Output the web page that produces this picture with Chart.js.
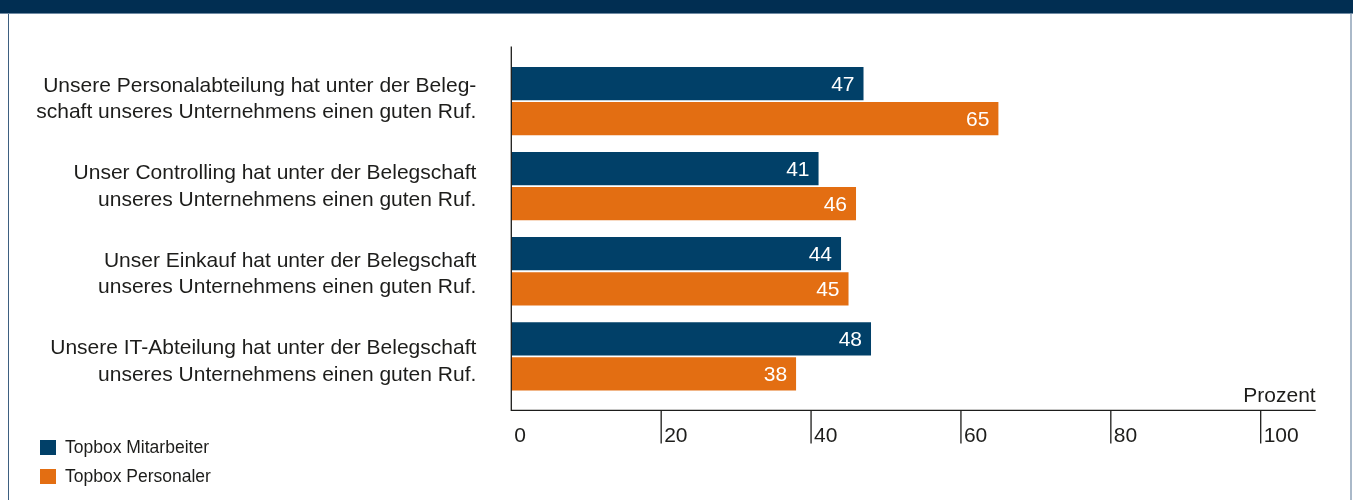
<!DOCTYPE html>
<html lang="de">
<head>
    <meta charset="UTF-8">
    <title>Ruf der Abteilungen</title>
    <script src="https://cdn.jsdelivr.net/npm/chart.js"></script>
    <style>
        body {
            margin: 0;
            width: 1353px;
            height: 500px;
            overflow: hidden;
            background: #fff;
            font-family: 'Liberation Sans', Arial, sans-serif;
        }
        .band {
            position: absolute;
            left: 0; top: 0;
            width: 1353px; height: 13px;
            background: #012e52;
            border-bottom: 1px solid #6f8aa3;
        }
        .frame {
            position: absolute;
            left: 8px; top: 14px;
            width: 1341px; height: 486px;
            border-left: 1px solid #3d5f80;
            border-right: 2px solid #aab9c9;
        }
        #chart {
            position: absolute;
            left: 0; top: 0;
        }
        #legend {
            position: absolute;
            left: 40px; top: 440px;
            font-size: 17.5px;
            color: #1d1d1b;
        }
        #legend div {
            height: 15px;
            line-height: 15px;
            margin-bottom: 13.5px;
            white-space: nowrap;
        }
        #legend span {
            display: inline-block;
            width: 16px; height: 15px;
            vertical-align: top;
            margin-right: 9px;
        }
    </style>
</head>
<body>
    <div class="band"></div>
    <div class="frame"></div>
    <canvas id="chart" width="1353" height="500"></canvas>
    <div id="legend"></div>

    <script>
        // Daten
        const categories = [
            ['Unsere Personalabteilung hat unter der Beleg-', 'schaft unseres Unternehmens einen guten Ruf.'],
            ['Unser Controlling hat unter der Belegschaft', 'unseres Unternehmens einen guten Ruf.'],
            ['Unser Einkauf hat unter der Belegschaft', 'unseres Unternehmens einen guten Ruf.'],
            ['Unsere IT-Abteilung hat unter der Belegschaft', 'unseres Unternehmens einen guten Ruf.']
        ];
        const mitarbeiter = [47, 41, 44, 48];
        const personaler = [65, 46, 45, 38];
        const xTicks = [0, 20, 40, 60, 80, 100];

        const textColor = '#1d1d1b';
        Chart.defaults.font.family = "'Liberation Sans', Arial, sans-serif";
        Chart.defaults.color = textColor;

        // Werte in den Balken
        const valueLabels = {
            id: 'valueLabels',
            afterDatasetsDraw(chart) {
                const ctx = chart.ctx;
                ctx.save();
                ctx.font = "21px 'Liberation Sans', Arial, sans-serif";
                ctx.fillStyle = '#ffffff';
                ctx.textAlign = 'right';
                ctx.textBaseline = 'alphabetic';
                chart.data.datasets.forEach((ds, i) => {
                    chart.getDatasetMeta(i).data.forEach((bar, j) => {
                        ctx.fillText(ds.data[j], bar.x - 9, bar.y + 7.5);
                    });
                });
                ctx.restore();
            }
        };

        // Achsenlinien, Teilstriche und "Prozent"
        const axisLines = {
            id: 'axisLines',
            afterDraw(chart) {
                const ctx = chart.ctx;
                const x = chart.scales.x;
                const area = chart.chartArea;
                const axisY = area.bottom + 11.5;
                ctx.save();
                ctx.strokeStyle = '#1d1d1b';
                ctx.lineWidth = 1.3;
                ctx.beginPath();
                ctx.moveTo(area.left, area.top - 12);
                ctx.lineTo(area.left, axisY);
                ctx.lineTo(area.right, axisY);
                x.ticks.forEach(t => {
                    if (t.value === 0) return;
                    const px = x.getPixelForValue(t.value);
                    ctx.moveTo(px, axisY);
                    ctx.lineTo(px, axisY + 33);
                });
                ctx.stroke();
                ctx.font = "21px 'Liberation Sans', Arial, sans-serif";
                ctx.fillStyle = textColor;
                ctx.textAlign = 'right';
                ctx.textBaseline = 'alphabetic';
                ctx.fillText('Prozent', area.right, axisY - 8);
                ctx.restore();
            }
        };

        const chart = new Chart(document.getElementById('chart'), {
            type: 'bar',
            data: {
                labels: categories.map(c => c.join(' ')),
                datasets: [
                    {
                        label: 'Topbox Mitarbeiter',
                        data: mitarbeiter,
                        backgroundColor: '#014068',
                        categoryPercentage: 0.8226,
                        barPercentage: 0.95
                    },
                    {
                        label: 'Topbox Personaler',
                        data: personaler,
                        backgroundColor: '#e36e12',
                        categoryPercentage: 0.8226,
                        barPercentage: 0.95
                    }
                ]
            },
            options: {
                indexAxis: 'y',
                responsive: false,
                animation: false,
                layout: {
                    padding: { left: 0, top: 58.5, right: 37.3, bottom: 51.1 }
                },
                plugins: {
                    legend: { display: false },
                    tooltip: { enabled: false }
                },
                scales: {
                    x: {
                        type: 'linear',
                        min: 0,
                        max: 107.34,
                        // unsichtbare Ticks dienen nur als Abstand zu den Beschriftungen
                        grid: { display: false, drawTicks: true, tickLength: 24.5 },
                        border: { display: false },
                        afterBuildTicks: axis => { axis.ticks = xTicks.map(v => ({ value: v })); },
                        afterFit: axis => { axis.height = 50; },
                        ticks: {
                            align: 'start',
                            labelOffset: 3,
                            padding: 0,
                            font: { size: 21 },
                            color: textColor
                        }
                    },
                    y: {
                        type: 'category',
                        display: false
                    },
                    // Beschriftungsachse mit etwas größerem Zeilenabstand als die Balkengruppen
                    yl: {
                        type: 'linear',
                        position: 'left',
                        offset: false,
                        reverse: true,
                        min: -0.4628,
                        max: 3.4236,
                        grid: { display: false, drawTicks: true, tickLength: 35 },
                        border: { display: false },
                        afterBuildTicks: axis => { axis.ticks = categories.map((c, i) => ({ value: i })); },
                        afterFit: axis => { axis.width = 511.3; },
                        ticks: {
                            padding: 0,
                            font: { size: 21, lineHeight: 1.25 },
                            color: textColor,
                            callback: v => categories[v]
                        }
                    }
                }
            },
            plugins: [valueLabels, axisLines]
        });

        // Legende
        const legend = document.getElementById('legend');
        chart.data.datasets.forEach(ds => {
            const row = document.createElement('div');
            const box = document.createElement('span');
            box.style.background = ds.backgroundColor;
            row.appendChild(box);
            row.appendChild(document.createTextNode(ds.label));
            legend.appendChild(row);
        });
    </script>
</body>
</html>
